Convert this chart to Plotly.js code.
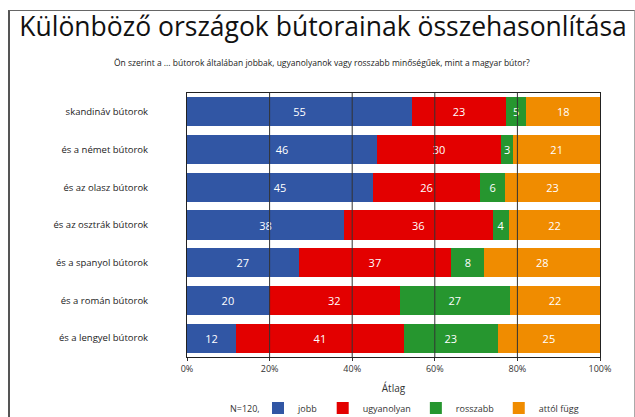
<!DOCTYPE html>
<html>
<head>
<meta charset="utf-8">
<script src="https://cdn.plot.ly/plotly-3.0.1.min.js"></script>
<style>
  html, body { margin: 0; padding: 0; background: #fff; }
  #wrap { position: relative; width: 635px; height: 417px; }
  #chart { position: absolute; left: 0; top: 0; width: 635px; height: 417px; }
  #frame { position: absolute; left: 8px; top: 10px; width: 624px; height: 420px;
           border-left: 2px solid #555; border-top: 1px solid #666; border-right: 1px solid #aaa;
           pointer-events: none; }
</style>
</head>
<body>
<div id="wrap">
  <div id="chart"></div>
  <div id="frame"></div>
</div>
<script>
const categories = [
  "skandináv bútorok",
  "és a német bútorok",
  "és az olasz bútorok",
  "és az osztrák bútorok",
  "és a spanyol bútorok",
  "és a román bútorok",
  "és a lengyel bútorok"
];
const jobb       = [55, 46, 45, 38, 27, 20, 12];
const ugyanolyan = [23, 30, 26, 36, 37, 32, 41];
const rosszabb   = [5, 3, 6, 4, 8, 27, 23];
const attolFugg  = [18, 21, 23, 22, 28, 22, 25];

const seriesNames = ["jobb", "ugyanolyan", "rosszabb", "attól függ"];
const seriesColors = ["#3156A4", "#E30000", "#26962F", "#F08C00"];
const seriesValues = [jobb, ugyanolyan, rosszabb, attolFugg];

const tickVals = [0, 20, 40, 60, 80, 100];
const tickText = ["0%", "20%", "40%", "60%", "80%", "100%"];

const titleText = "Különböző országok bútorainak összehasonlítása";
const subtitleText = "Ön szerint a ... bútorok általában jobbak, ugyanolyanok vagy rosszabb minőségűek, mint a magyar bútor?";
const xTitle = "Átlag";
const noteText = "N=120,";

const traces = seriesValues.map((vals, i) => ({
  type: "bar",
  orientation: "h",
  name: seriesNames[i],
  y: categories,
  x: vals,
  text: vals.map(String),
  texttemplate: "%{text}",
  textposition: "inside",
  insidetextanchor: "middle",
  textangle: 0,
  constraintext: "none",
  textfont: { family: "Open Sans, sans-serif", size: 11, color: "#ffffff" },
  marker: { color: seriesColors[i], line: { width: 0 } },
  hoverinfo: "skip"
}));

const gridShapes = [20, 40, 60, 80].map(v => ({
  type: "line", layer: "above", xref: "x", yref: "paper",
  x0: v, x1: v, y0: 0, y1: 1,
  line: { color: "#333333", width: 1 }
}));

const legendY = -(408 - 357) / 264;

const layout = {
  width: 635, height: 417,
  margin: { l: 187, r: 35, t: 93, b: 60, autoexpand: false },
  paper_bgcolor: "#ffffff",
  plot_bgcolor: "#ffffff",
  barmode: "stack",
  barnorm: "percent",
  bargap: 0.23,
  font: { family: "Open Sans, sans-serif", color: "#222" },
  title: {
    text: titleText,
    font: { family: "Open Sans, sans-serif", size: 26.5, color: "#111" },
    x: 323 / 635, xanchor: "center", xref: "container",
    y: 1 - 27 / 417, yanchor: "middle", yref: "container"
  },
  xaxis: {
    range: [0, 100],
    tickvals: tickVals,
    ticktext: tickText,
    tickfont: { size: 9, color: "#333" },
    ticks: "outside", ticklen: 3, tickcolor: "#333",
    showgrid: false,
    zeroline: false,
    showline: true, linecolor: "#222", linewidth: 1, mirror: true,
    fixedrange: true,
    automargin: false,
    title: { text: xTitle, font: { size: 10, color: "#333" }, standoff: 11 }
  },
  yaxis: {
    categoryorder: "array",
    categoryarray: categories,
    autorange: "reversed",
    tickfont: { size: 9.5, color: "#222" },
    ticklabelstandoff: 36,
    showgrid: false,
    zeroline: false,
    showline: true, linecolor: "#222", linewidth: 1, mirror: true,
    fixedrange: true,
    automargin: false
  },
  showlegend: true,
  legend: {
    orientation: "h",
    x: (258 - 187) / 413, xanchor: "left",
    y: legendY, yanchor: "middle",
    font: { size: 9, color: "#333" },
    itemwidth: 30,
    traceorder: "normal"
  },
  shapes: gridShapes,
  annotations: [
    {
      text: subtitleText, xref: "paper", yref: "paper",
      x: (322 - 187) / 413, xanchor: "center", y: 1 + (93 - 62) / 264, yanchor: "middle",
      showarrow: false, font: { size: 8.5, color: "#222" }
    },
    {
      text: noteText, xref: "paper", yref: "paper",
      x: (262 - 187) / 413, xanchor: "right", y: legendY, yanchor: "middle",
      showarrow: false, font: { size: 9, color: "#333" }
    }
  ]
};

Plotly.newPlot("chart", traces, layout, { displayModeBar: false, staticPlot: true });
</script>
</body>
</html>
